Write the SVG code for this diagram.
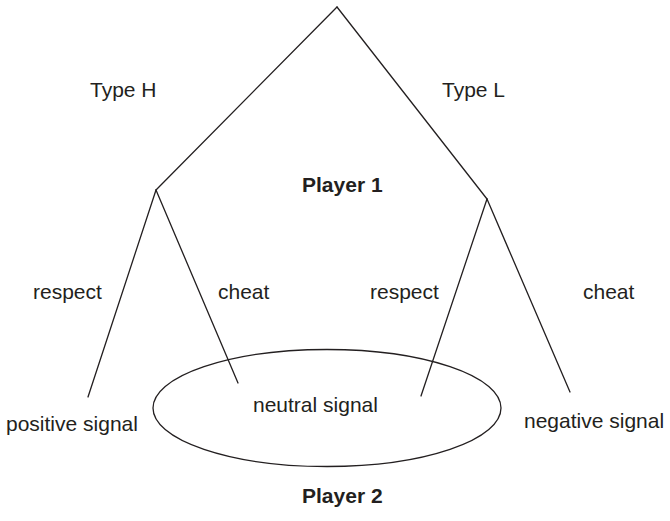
<svg xmlns="http://www.w3.org/2000/svg" width="670" height="521" viewBox="0 0 670 521">
<style>
.e{stroke:#231f20;stroke-width:1.3;fill:none;stroke-linecap:round}
.t{font-family:"Liberation Sans",Arial,sans-serif;font-size:21px;fill:#231f20}
.b{font-weight:bold}
</style>
<rect width="670" height="521" fill="#fff"/>
<g id="connectors">
<line class="e" x1="337" y1="7" x2="156" y2="190"/>
<line class="e" x1="337" y1="7" x2="487" y2="199"/>
<line class="e" x1="156" y1="190" x2="88" y2="397"/>
<line class="e" x1="156" y1="190" x2="238" y2="383"/>
<line class="e" x1="487" y1="199" x2="421" y2="396"/>
<line class="e" x1="487" y1="199" x2="570" y2="392"/>
</g>
<g id="infoset">
<ellipse class="e" cx="327" cy="408" rx="174" ry="58.5"/>
</g>
<g id="labels">
<text class="t" x="90" y="97">Type H</text>
<text class="t" x="442" y="97">Type L</text>
<text class="t" x="33" y="299">respect</text>
<text class="t" x="218" y="299">cheat</text>
<text class="t" x="370" y="299">respect</text>
<text class="t" x="583" y="299">cheat</text>
</g>
<g id="player1"><text class="t b" x="302" y="192">Player 1</text></g>
<g id="positive"><text class="t" x="6" y="431">positive signal</text></g>
<g id="neutral"><text class="t" x="253" y="412">neutral signal</text></g>
<g id="negative"><text class="t" x="524" y="428">negative signal</text></g>
<g id="player2"><text class="t b" x="302" y="503">Player 2</text></g>
</svg>
